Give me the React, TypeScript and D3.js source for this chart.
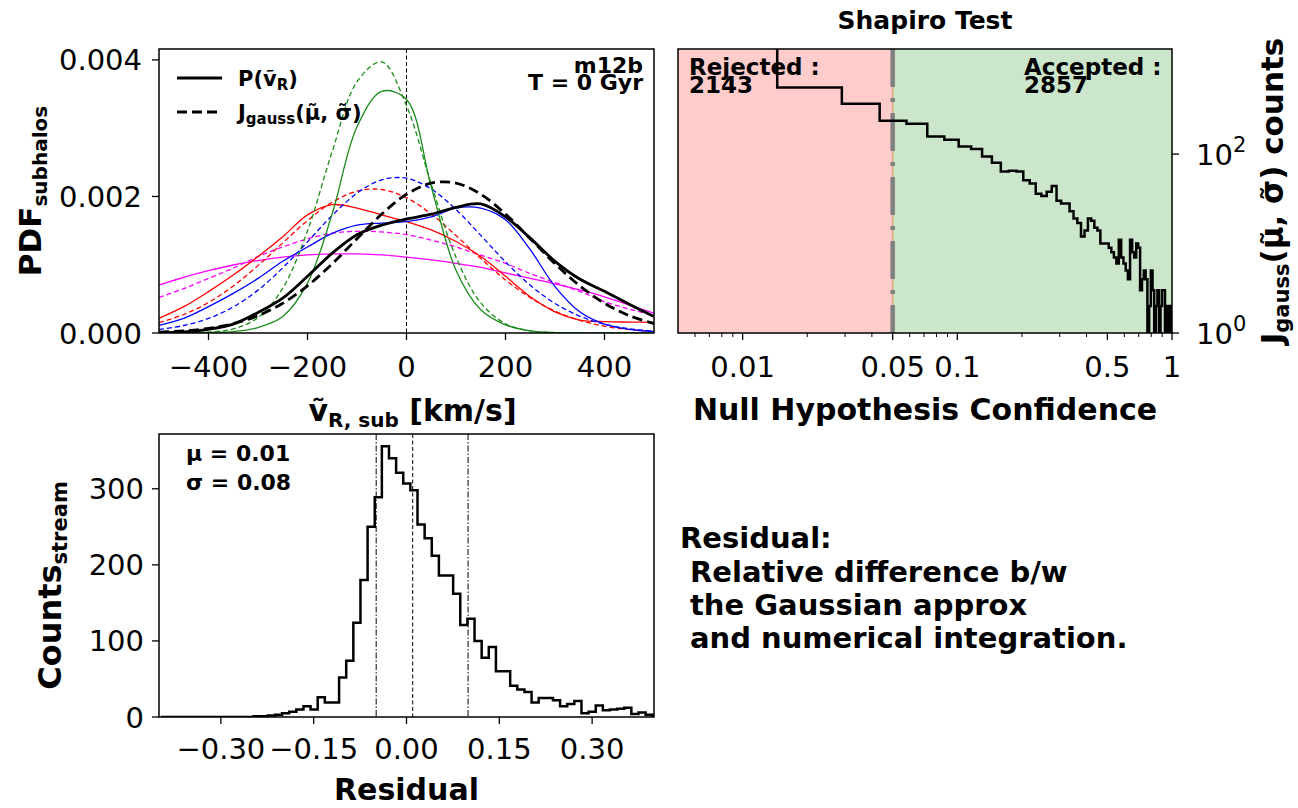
import React from "react";
import * as d3 from "d3";

// ---------- DATA ----------
// Top-left: PDFs of subhalo radial velocity (solid = P, dashed = J_gauss)
const vGrid = [-500, -450, -400, -350, -300, -250, -200, -150, -100, -50, 0, 50, 100, 150, 200, 250, 300, 350, 400, 450, 500];
const blackP = [0.000005, 0.000015, 0.000054, 0.00013, 0.0003, 0.00051, 0.00083, 0.00117, 0.00144, 0.00158, 0.00167, 0.00174, 0.00184, 0.00189, 0.0017, 0.00139, 0.00105, 0.00079, 0.00061, 0.00042, 0.00024];
const blackJ = [0.0000135, 0.0000316, 0.0000683, 0.000137, 0.000253, 0.000435, 0.000691, 0.001015, 0.001382, 0.001742, 0.002032, 0.002195, 0.002195, 0.002032, 0.001742, 0.001382, 0.001015, 0.000691, 0.000435, 0.000253, 0.000137];
const blueP = [0.000112, 0.000215, 0.000386, 0.00058, 0.0008, 0.00105, 0.00126, 0.00146, 0.00158, 0.00161, 0.00163, 0.0017, 0.00183, 0.00183, 0.00166, 0.00122, 0.00068, 0.00031, 0.00013, 0.000054, 0.00002];
const blueJ = [0.000052, 0.00011, 0.000213, 0.000381, 0.000628, 0.000954, 0.001335, 0.001723, 0.002048, 0.002244, 0.002267, 0.002109, 0.001809, 0.00143, 0.001042, 0.0007, 0.000433, 0.000247, 0.00013, 0.000063, 0.000028];
const redP = [0.000215, 0.000386, 0.000606, 0.00085, 0.00112, 0.00141, 0.00173, 0.00188, 0.00183, 0.00173, 0.00163, 0.00151, 0.00134, 0.00112, 0.00083, 0.00053, 0.00031, 0.00019, 0.000166, 0.00016, 0.000156];
const redJ = [0.000153, 0.000271, 0.000447, 0.000688, 0.000987, 0.00132, 0.001647, 0.001916, 0.002078, 0.002102, 0.001981, 0.001742, 0.001428, 0.001092, 0.000778, 0.000517, 0.00032, 0.000185, 0.0000996, 0.00005, 0.0000234];
const greenP = [0, 0, 0.00001, 0.00002, 0.00008, 0.00024, 0.00073, 0.00175, 0.00302, 0.00354, 0.00342, 0.00214, 0.00092, 0.00034, 0.00012, 0.00003, 0.000005, 0, 0, 0, 0];
const greenJ = [0, 0.000002, 0.0000123, 0.0000595, 0.000224, 0.000656, 0.001497, 0.00266, 0.00368, 0.00397, 0.00333, 0.00218, 0.00111, 0.00044, 0.000136, 0.0000327, 0.000006, 0, 0, 0, 0];
const magentaP = [0.000703, 0.000816, 0.000913, 0.000996, 0.00106, 0.00111, 0.001143, 0.001158, 0.001158, 0.001143, 0.00111, 0.00107, 0.00102, 0.00096, 0.00088, 0.0008, 0.00072, 0.00063, 0.00053, 0.00041, 0.00029];
const magentaJ = [0.00052, 0.00065, 0.0008, 0.00095, 0.00112, 0.00126, 0.00138, 0.00146, 0.00149, 0.00148, 0.00144, 0.00136, 0.00126, 0.00114, 0.00102, 0.00087, 0.00074, 0.00061, 0.00046, 0.00035, 0.00026];
const pdfXTicks = [-400, -200, 0, 200, 400];
const pdfYTicks = [0, 0.002, 0.004];

// Top-right: Shapiro test p-value histogram (69 equal bins on [0,1])
const shapiroCounts = [2050, 556, 366, 236, 218, 157, 145, 122, 114, 94, 80, 64, 65, 64, 51, 47, 36, 34, 38, 44, 30, 28, 28, 23, 19, 17, 12, 14, 19, 18, 15, 14, 10, 10, 10, 9, 8, 7, 6, 11, 7, 6, 5, 4, 11, 8, 7, 10, 9, 3, 4, 5, 4, 1, 2, 5, 3, 1, 2, 3, 1, 2, 3, 3, 1, 2, 1, 2, 1];
const shapiroThreshold = 0.05;
const rejectedCount = 2143;
const acceptedCount = 2857;
const shapiroMajorTicks = [0.01, 0.05, 0.1, 0.5, 1];
const shapiroTickLabels = ["0.01", "0.05", "0.1", "0.5", "1"];
const shapiroMinorTicks = [0.006, 0.007, 0.008, 0.009, 0.02, 0.03, 0.04, 0.06, 0.07, 0.08, 0.09, 0.2, 0.3, 0.4, 0.6, 0.7, 0.8, 0.9];
const shapiroYTicks = [1, 100];
const shapiroYTickExp = ["0", "2"];

// Bottom-left: residual histogram (69 bins between min and max)
const residualMin = -0.397;
const residualMax = 0.398;
const residualCounts = [0, 0, 0, 0, 0, 0, 0, 0, 0, 0, 0, 0, 0, 1, 1, 2, 3, 5, 7, 10, 14, 10, 26, 19, 19, 52, 74, 124, 180, 250, 289, 356, 340, 321, 307, 298, 253, 235, 212, 186, 186, 162, 121, 129, 100, 78, 92, 60, 60, 41, 36, 33, 19, 25, 25, 22, 14, 17, 21, 5, 7, 15, 9, 10, 11, 12, 4, 6, 3];
const residualMu = 0.01;
const residualSigma = 0.08;
const residualLow = -0.049;
const residualHigh = 0.0995;
const residualXTicks = [-0.3, -0.15, 0, 0.15, 0.3];
const residualYTicks = [0, 100, 200, 300];

const FONT = "DejaVu Sans";
const TICK_FS = 29;
const LABEL_FS = 30;

const fmtMinus = (s: string) => s.replace("-", "\u2212");

export default function App() {
  // Panels
  const A = { x0: 159, x1: 654, y0: 49, y1: 333 };
  const B = { x0: 678, x1: 1172, y0: 49, y1: 333 };
  const C = { x0: 159, x1: 654, y0: 434, y1: 717 };

  const xA = d3.scaleLinear().domain([-500, 500]).range([A.x0, A.x1]);
  const yA = d3.scaleLinear().domain([0, 0.00416]).range([A.y1, A.y0]);
  const xB = d3.scaleLog().domain([0.005, 1]).range([B.x0, B.x1]);
  const yB = d3.scaleLog().domain([1, Math.pow(10, 3.175)]).range([B.y1, B.y0]);
  const xC = d3.scaleLinear().domain([-0.4, 0.4]).range([C.x0, C.x1]);
  const yC = d3.scaleLinear().domain([0, 372]).range([C.y1, C.y0]);

  const lineA = (vals: number[]) =>
    d3
      .line<number>()
      .x((_, i) => xA(vGrid[i]))
      .y((d) => yA(d))
      .curve(d3.curveCatmullRom.alpha(0.5))(vals) || "";

  const curves = [
    { color: "#ff00ff", p: magentaP, j: magentaJ, lw: 1.3, dash: "5,3" },
    { color: "#ff0000", p: redP, j: redJ, lw: 1.3, dash: "5,3" },
    { color: "#0000ff", p: blueP, j: blueJ, lw: 1.3, dash: "5,3" },
    { color: "#1a8c1a", p: greenP, j: greenJ, lw: 1.3, dash: "5,3" },
    { color: "#000000", p: blackP, j: blackJ, lw: 2.8, dash: "10,5" },
  ];

  // Shapiro histogram step path
  const nB = shapiroCounts.length;
  const edgesB = d3.range(nB + 1).map((i) => i / nB);
  const ptsB: [number, number][] = [];
  const clampX = (v: number) => xB(Math.max(v, 0.003));
  const yBc = (c: number) => yB(Math.max(c, 0.5));
  ptsB.push([clampX(edgesB[0]), yBc(0.5)]);
  shapiroCounts.forEach((c, i) => {
    ptsB.push([clampX(edgesB[i]), yBc(c)]);
    ptsB.push([clampX(edgesB[i + 1]), yBc(c)]);
  });
  ptsB.push([clampX(edgesB[nB]), yBc(0.5)]);
  const pathB = d3.line()(ptsB) || "";

  // Residual histogram step path
  const nC = residualCounts.length;
  const wC = (residualMax - residualMin) / nC;
  const ptsC: [number, number][] = [];
  ptsC.push([xC(residualMin), yC(0)]);
  residualCounts.forEach((c, i) => {
    ptsC.push([xC(residualMin + i * wC), yC(c)]);
    ptsC.push([xC(residualMin + (i + 1) * wC), yC(c)]);
  });
  ptsC.push([xC(residualMax), yC(0)]);
  const pathC = d3.line()(ptsC) || "";

  const TL = 7; // tick length

  return (
    <svg
      width={1298}
      height={808}
      style={{ position: "absolute", left: 0, top: 0, background: "#fff" }}
      fontFamily={FONT}
    >
      <defs>
        <clipPath id="clipA">
          <rect x={A.x0} y={A.y0} width={A.x1 - A.x0} height={A.y1 - A.y0} />
        </clipPath>
        <clipPath id="clipB">
          <rect x={B.x0} y={B.y0} width={B.x1 - B.x0} height={B.y1 - B.y0} />
        </clipPath>
        <clipPath id="clipC">
          <rect x={C.x0} y={C.y0} width={C.x1 - C.x0} height={C.y1 - C.y0} />
        </clipPath>
      </defs>
      <rect x={0} y={0} width={1298} height={808} fill="#fff" />

      {/* ================= Panel A ================= */}
      <g clipPath="url(#clipA)">
        <line x1={xA(0)} x2={xA(0)} y1={A.y0} y2={A.y1} stroke="#000" strokeWidth={1} strokeDasharray="4,2.5" />
        {curves.map((c, i) => (
          <g key={i}>
            <path d={lineA(c.j)} fill="none" stroke={c.color} strokeWidth={c.lw} strokeDasharray={c.dash} />
            <path d={lineA(c.p)} fill="none" stroke={c.color} strokeWidth={c.lw} />
          </g>
        ))}
      </g>
      <rect x={A.x0} y={A.y0} width={A.x1 - A.x0} height={A.y1 - A.y0} fill="none" stroke="#000" strokeWidth={1.5} />
      {pdfXTicks.map((t) => (
        <g key={t}>
          <line x1={xA(t)} x2={xA(t)} y1={A.y1} y2={A.y1 + TL} stroke="#000" strokeWidth={1.3} />
          <text x={xA(t)} y={A.y1 + 44} fontSize={TICK_FS} textAnchor="middle">
            {fmtMinus(String(t))}
          </text>
        </g>
      ))}
      {pdfYTicks.map((t) => (
        <g key={t}>
          <line x1={A.x0 - TL} x2={A.x0} y1={yA(t)} y2={yA(t)} stroke="#000" strokeWidth={1.3} />
          <text x={A.x0 - 17} y={yA(t) + 10.5} fontSize={TICK_FS} textAnchor="end">
            {d3.format(".3f")(t)}
          </text>
        </g>
      ))}
      {/* legend */}
      <line x1={177} x2={222} y1={78} y2={78} stroke="#000" strokeWidth={2.8} />
      <text x={238} y={86} fontSize={21} fontWeight="bold">
        P(ṽ<tspan fontSize={15} dy={4}>R</tspan>
        <tspan dy={-4}>)</tspan>
      </text>
      <line x1={177} x2={222} y1={112} y2={112} stroke="#000" strokeWidth={2.8} strokeDasharray="10,5" />
      <text x={238} y={120} fontSize={21} fontWeight="bold">
        J<tspan fontSize={15} dy={4}>gauss</tspan>
        <tspan dy={-4}>(μ̃, σ̃)</tspan>
      </text>
      <text x={643} y={73} fontSize={22} fontWeight="bold" textAnchor="end">m12b</text>
      <text x={643} y={90} fontSize={22} fontWeight="bold" textAnchor="end">T = 0 Gyr</text>
      {/* axis labels */}
      <text x={(A.x0 + A.x1) / 2 + 6} y={421} fontSize={LABEL_FS} fontWeight="bold" textAnchor="middle">
        ṽ<tspan fontSize={20} dy={6}>R, sub</tspan>
        <tspan dy={-6}> [km/s]</tspan>
      </text>
      <text transform={`translate(41,${(A.y0 + A.y1) / 2}) rotate(-90)`} fontSize={31} fontWeight="bold" textAnchor="middle">
        PDF<tspan fontSize={20} dy={6}>subhalos</tspan>
      </text>

      {/* ================= Panel B ================= */}
      <rect x={B.x0} y={B.y0} width={xB(shapiroThreshold) - B.x0} height={B.y1 - B.y0} fill="#ffcccc" />
      <rect x={xB(shapiroThreshold)} y={B.y0} width={B.x1 - xB(shapiroThreshold)} height={B.y1 - B.y0} fill="#cce6cc" />
      <line x1={xB(shapiroThreshold)} x2={xB(shapiroThreshold)} y1={B.y0} y2={B.y1} stroke="#e0a878" strokeWidth={1.5} />
      <line x1={xB(shapiroThreshold)} x2={xB(shapiroThreshold)} y1={B.y0} y2={B.y1} stroke="#808080" strokeWidth={4.5} strokeDasharray="38,11,4,11" />
      <g clipPath="url(#clipB)">
        <path d={pathB} fill="none" stroke="#000" strokeWidth={2.5} />
      </g>
      <rect x={B.x0} y={B.y0} width={B.x1 - B.x0} height={B.y1 - B.y0} fill="none" stroke="#000" strokeWidth={1.5} />
      <text x={689} y={75} fontSize={23} fontWeight="bold">Rejected :</text>
      <text x={689} y={93} fontSize={23} fontWeight="bold">{rejectedCount}</text>
      <text x={1024} y={75} fontSize={23} fontWeight="bold">Accepted :</text>
      <text x={1024} y={93} fontSize={23} fontWeight="bold">{acceptedCount}</text>
      {shapiroMinorTicks.map((t) => (
        <line key={t} x1={xB(t)} x2={xB(t)} y1={B.y1} y2={B.y1 + 4} stroke="#000" strokeWidth={1} />
      ))}
      {shapiroMajorTicks.map((t, i) => (
        <g key={t}>
          <line x1={xB(t)} x2={xB(t)} y1={B.y1} y2={B.y1 + TL} stroke="#000" strokeWidth={1.3} />
          <text x={xB(t)} y={B.y1 + 44} fontSize={TICK_FS} textAnchor="middle">
            {shapiroTickLabels[i]}
          </text>
        </g>
      ))}
      {shapiroYTicks.map((t, i) => (
        <g key={t}>
          <line x1={B.x1} x2={B.x1 + TL} y1={yB(t)} y2={yB(t)} stroke="#000" strokeWidth={1.3} />
          <text x={B.x1 + 24} y={yB(t) + 11} fontSize={TICK_FS}>
            10<tspan fontSize={21} dy={-13}>{shapiroYTickExp[i]}</tspan>
          </text>
        </g>
      ))}
      <text x={(B.x0 + B.x1) / 2} y={29} fontSize={25} fontWeight="bold" textAnchor="middle">Shapiro Test</text>
      <text x={(B.x0 + B.x1) / 2} y={420} fontSize={LABEL_FS} fontWeight="bold" textAnchor="middle">Null Hypothesis Confidence</text>
      <text transform={`translate(1283,${(B.y0 + B.y1) / 2}) rotate(-90)`} fontSize={31} fontWeight="bold" textAnchor="middle">
        J<tspan fontSize={21} dy={6}>gauss</tspan>
        <tspan dy={-6}>(μ̃, σ̃) counts</tspan>
      </text>

      {/* ================= Panel C ================= */}
      <g clipPath="url(#clipC)">
        <line x1={xC(residualLow)} x2={xC(residualLow)} y1={C.y0} y2={C.y1} stroke="#000" strokeWidth={1} strokeDasharray="6,2,1.5,2" />
        <line x1={xC(residualMu)} x2={xC(residualMu)} y1={C.y0} y2={C.y1} stroke="#000" strokeWidth={1} strokeDasharray="4,2.5" />
        <line x1={xC(residualHigh)} x2={xC(residualHigh)} y1={C.y0} y2={C.y1} stroke="#000" strokeWidth={1} strokeDasharray="6,2,1.5,2" />
        <path d={pathC} fill="none" stroke="#000" strokeWidth={2.5} />
      </g>
      <rect x={C.x0} y={C.y0} width={C.x1 - C.x0} height={C.y1 - C.y0} fill="none" stroke="#000" strokeWidth={1.5} />
      {residualXTicks.map((t) => (
        <g key={t}>
          <line x1={xC(t)} x2={xC(t)} y1={C.y1} y2={C.y1 + TL} stroke="#000" strokeWidth={1.3} />
          <text x={xC(t)} y={C.y1 + 42} fontSize={TICK_FS} textAnchor="middle">
            {fmtMinus(d3.format(".2f")(t))}
          </text>
        </g>
      ))}
      {residualYTicks.map((t) => (
        <g key={t}>
          <line x1={C.x0 - TL} x2={C.x0} y1={yC(t)} y2={yC(t)} stroke="#000" strokeWidth={1.3} />
          <text x={C.x0 - 15} y={yC(t) + 10.5} fontSize={TICK_FS} textAnchor="end">
            {t}
          </text>
        </g>
      ))}
      <text x={186} y={461} fontSize={22} fontWeight="bold">μ = {residualMu.toFixed(2)}</text>
      <text x={186} y={490} fontSize={22} fontWeight="bold">σ = {residualSigma.toFixed(2)}</text>
      <text x={(C.x0 + C.x1) / 2} y={800} fontSize={LABEL_FS} fontWeight="bold" textAnchor="middle">Residual</text>
      <text transform={`translate(61,${(C.y0 + C.y1) / 2 + 10}) rotate(-90)`} fontSize={32} fontWeight="bold" textAnchor="middle">
        Counts<tspan fontSize={21} dy={6}>stream</tspan>
      </text>

      {/* ================= Note text ================= */}
      <text x={680} y={548} fontSize={29} fontWeight="bold">Residual:</text>
      <text x={690} y={582} fontSize={29} fontWeight="bold">Relative difference b/w</text>
      <text x={690} y={615} fontSize={29} fontWeight="bold">the Gaussian approx</text>
      <text x={690} y={648} fontSize={29} fontWeight="bold">and numerical integration.</text>
    </svg>
  );
}
